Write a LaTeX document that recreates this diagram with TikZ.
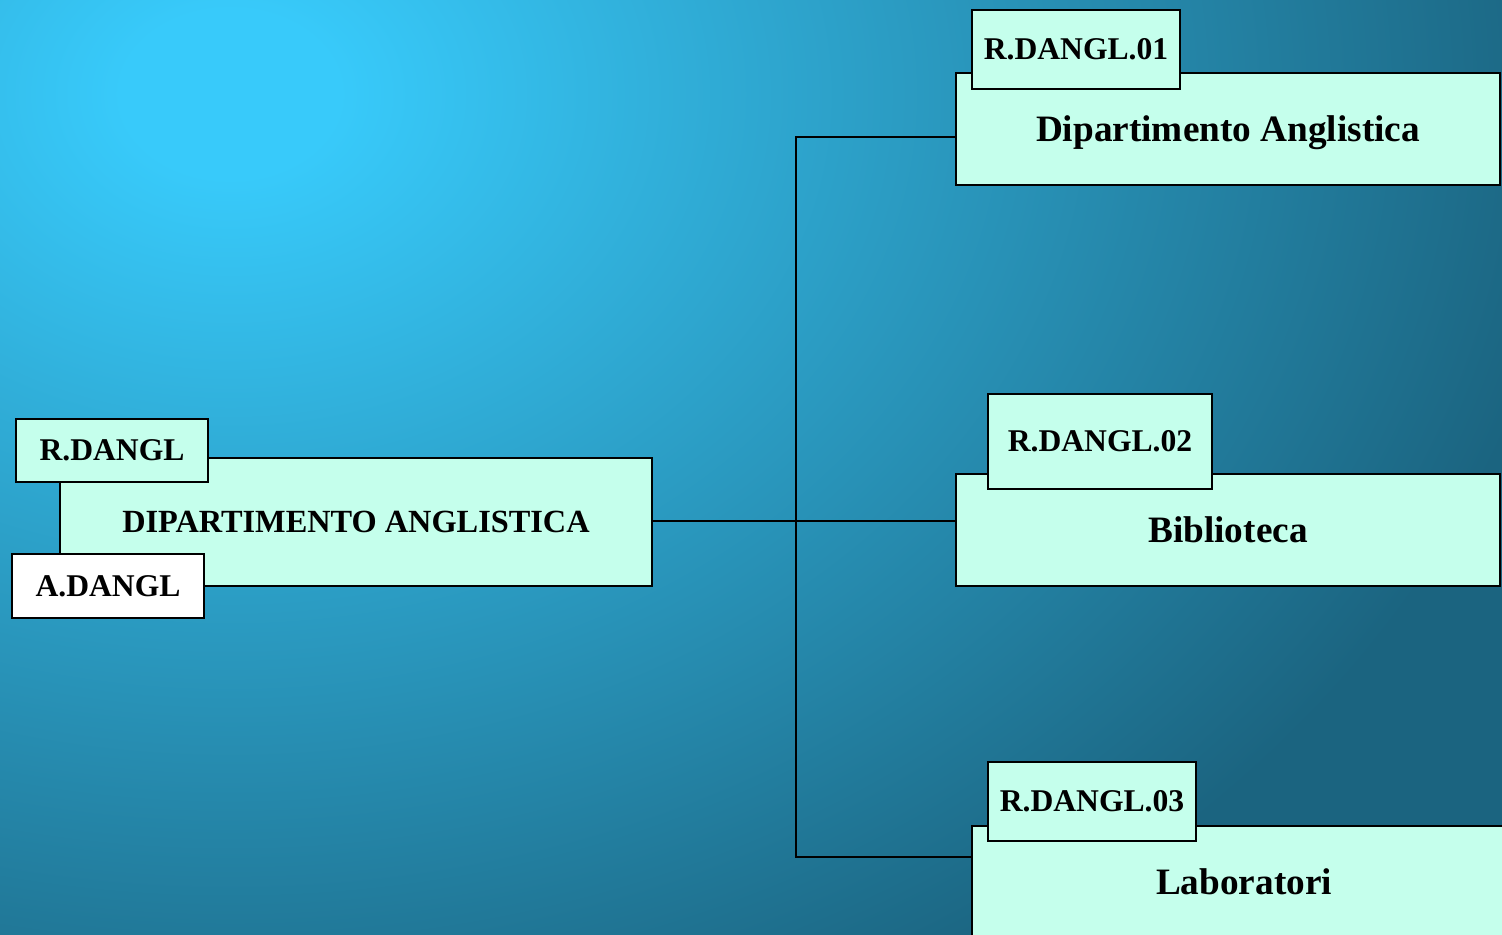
\documentclass[tikz,border=0pt]{standalone}
\usepackage{fontspec}
\setmainfont{Liberation Serif}
\usetikzlibrary{positioning}

\definecolor{mint}{RGB}{197,255,236}
\definecolor{bgin}{RGB}{56,202,250}
\definecolor{bgout}{RGB}{27,100,128}
\pgfdeclareradialshading{bgshade}{\pgfpoint{0bp}{0bp}}{color(0bp)=(bgin); color(2bp)=(bgin); color(25bp)=(bgout); color(50bp)=(bgout)}

\begin{document}
\begin{tikzpicture}[semithick]
\tikzstyle{unit}=[rectangle, fill=mint, draw=black, line width=0.25mm,
inner sep=0pt, outer sep=0pt, text depth=0pt,
minimum width=5.44cm, minimum height=1.12cm,
font=\fontsize{10.6}{12}\selectfont\bfseries]
\tikzstyle{code}=[rectangle, fill=mint, draw=black, line width=0.25mm,
inner sep=0pt, outer sep=0pt,
minimum width=2.08cm, minimum height=0.79cm,
font=\fontsize{9}{11}\selectfont\bfseries]

\useasboundingbox (0,0) rectangle (15.02,9.34);
\begin{scope}
\clip (0,0) rectangle (15.02,9.34);
\shade[shading=bgshade] (-11.2,-2.0) rectangle (15.8,18.8);

\node[unit, minimum width=5.92cm, minimum height=1.28cm,
font=\fontsize{9.2}{11}\selectfont\bfseries]
(Dip) at (3.56,4.12) {DIPARTIMENTO ANGLISTICA};

\node[unit] (Dip01) at (12.28,8.05) {Dipartimento Anglistica};
\node[unit] (Bib)   at (12.28,4.04) {Biblioteca};
\node[unit] (Lab)   at (12.44,0.52) {Laboratori};

\node[code, minimum width=1.92cm, minimum height=0.63cm]
(RDangl) [above right=-0.24cm and -0.44cm of Dip.north west] {R.DANGL};
\node[code, fill=white, minimum width=1.92cm, minimum height=0.64cm]
(ADangl) [below right=-0.32cm and -0.48cm of Dip.south west] {A.DANGL};

\node[code]
(RDangl01) [above right=-0.16cm and 0.16cm of Dip01.north west] {R.DANGL.01};
\node[code, minimum width=2.24cm, minimum height=0.95cm]
(RDangl02) [above right=-0.15cm and 0.32cm of Bib.north west] {R.DANGL.02};
\node[code]
(RDangl03) [above right=-0.15cm and 0.16cm of Lab.north west] {R.DANGL.03};

\coordinate (fork) at (7.96,4.13);
\coordinate (top) at (7.96,7.97);
\coordinate (bot) at (7.96,0.77);

\draw (Dip.east |- fork) -- (Bib.west |- fork);
\draw (Dip01.west |- top) -- (top) -- (bot) -- (Lab.west |- bot);
\end{scope}

\end{tikzpicture}
\end{document}
